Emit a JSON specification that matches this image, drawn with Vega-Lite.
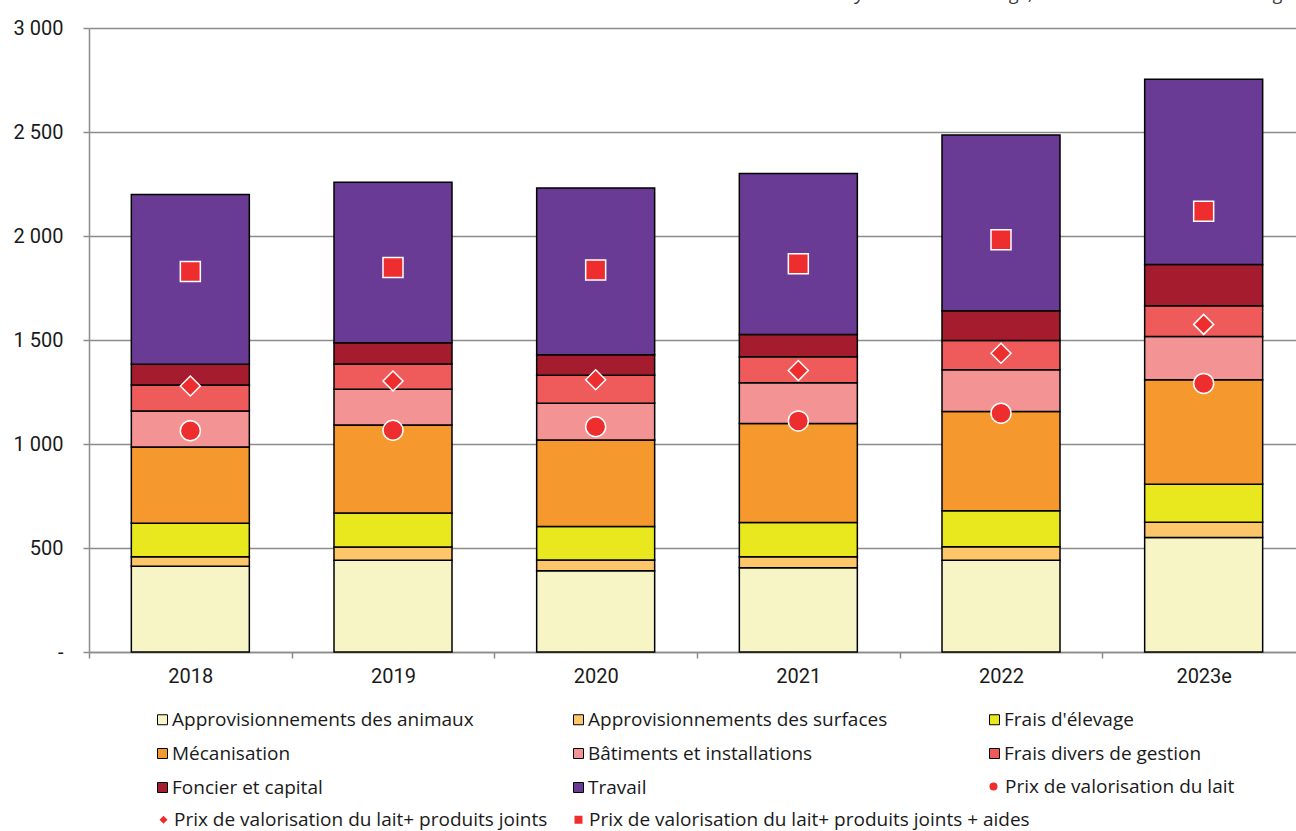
{
  "$schema": "https://vega.github.io/schema/vega-lite/v6.json",
  "width": 1216,
  "height": 624,
  "autosize": {"type": "none"},
  "padding": {"left": 89, "top": 28, "right": 0, "bottom": 179},
  "background": "white",
  "config": {"font": "Roboto", "view": {"stroke": null}},
  "title": {
    "text": "Source : Inosys Réseaux d'élevage, traitement Institut de l'Elevage",
    "anchor": "end",
    "frame": "group",
    "orient": "top",
    "fontStyle": "italic",
    "fontWeight": "normal",
    "font": "Open Sans",
    "fontSize": 19,
    "color": "#333333",
    "baseline": "alphabetic",
    "offset": 4,
    "dy": 5,
    "dx": -12
  },
  "datasets": {
    "couts": [
      {"annee": "2018", "serie": "Approvisionnements des animaux", "valeur": 412, "ordre": 1},
      {"annee": "2018", "serie": "Approvisionnements des surfaces", "valeur": 46, "ordre": 2},
      {"annee": "2018", "serie": "Frais d'élevage", "valeur": 161, "ordre": 3},
      {"annee": "2018", "serie": "Mécanisation", "valeur": 367, "ordre": 4},
      {"annee": "2018", "serie": "Bâtiments et installations", "valeur": 173, "ordre": 5},
      {"annee": "2018", "serie": "Frais divers de gestion", "valeur": 125, "ordre": 6},
      {"annee": "2018", "serie": "Foncier et capital", "valeur": 99, "ordre": 7},
      {"annee": "2018", "serie": " Travail", "valeur": 817, "ordre": 8},
      {"annee": "2019", "serie": "Approvisionnements des animaux", "valeur": 441, "ordre": 1},
      {"annee": "2019", "serie": "Approvisionnements des surfaces", "valeur": 64, "ordre": 2},
      {"annee": "2019", "serie": "Frais d'élevage", "valeur": 163, "ordre": 3},
      {"annee": "2019", "serie": "Mécanisation", "valeur": 423, "ordre": 4},
      {"annee": "2019", "serie": "Bâtiments et installations", "valeur": 172, "ordre": 5},
      {"annee": "2019", "serie": "Frais divers de gestion", "valeur": 122, "ordre": 6},
      {"annee": "2019", "serie": "Foncier et capital", "valeur": 102, "ordre": 7},
      {"annee": "2019", "serie": " Travail", "valeur": 771, "ordre": 8},
      {"annee": "2020", "serie": "Approvisionnements des animaux", "valeur": 391, "ordre": 1},
      {"annee": "2020", "serie": "Approvisionnements des surfaces", "valeur": 51, "ordre": 2},
      {"annee": "2020", "serie": "Frais d'élevage", "valeur": 161, "ordre": 3},
      {"annee": "2020", "serie": "Mécanisation", "valeur": 416, "ordre": 4},
      {"annee": "2020", "serie": "Bâtiments et installations", "valeur": 177, "ordre": 5},
      {"annee": "2020", "serie": "Frais divers de gestion", "valeur": 134, "ordre": 6},
      {"annee": "2020", "serie": "Foncier et capital", "valeur": 99, "ordre": 7},
      {"annee": "2020", "serie": " Travail", "valeur": 802, "ordre": 8},
      {"annee": "2021", "serie": "Approvisionnements des animaux", "valeur": 405, "ordre": 1},
      {"annee": "2021", "serie": "Approvisionnements des surfaces", "valeur": 53, "ordre": 2},
      {"annee": "2021", "serie": "Frais d'élevage", "valeur": 165, "ordre": 3},
      {"annee": "2021", "serie": "Mécanisation", "valeur": 475, "ordre": 4},
      {"annee": "2021", "serie": "Bâtiments et installations", "valeur": 197, "ordre": 5},
      {"annee": "2021", "serie": "Frais divers de gestion", "valeur": 125, "ordre": 6},
      {"annee": "2021", "serie": "Foncier et capital", "valeur": 106, "ordre": 7},
      {"annee": "2021", "serie": " Travail", "valeur": 775, "ordre": 8},
      {"annee": "2022", "serie": "Approvisionnements des animaux", "valeur": 441, "ordre": 1},
      {"annee": "2022", "serie": "Approvisionnements des surfaces", "valeur": 65, "ordre": 2},
      {"annee": "2022", "serie": "Frais d'élevage", "valeur": 173, "ordre": 3},
      {"annee": "2022", "serie": "Mécanisation", "valeur": 477, "ordre": 4},
      {"annee": "2022", "serie": "Bâtiments et installations", "valeur": 201, "ordre": 5},
      {"annee": "2022", "serie": "Frais divers de gestion", "valeur": 140, "ordre": 6},
      {"annee": "2022", "serie": "Foncier et capital", "valeur": 144, "ordre": 7},
      {"annee": "2022", "serie": " Travail", "valeur": 845, "ordre": 8},
      {"annee": "2023e", "serie": "Approvisionnements des animaux", "valeur": 550, "ordre": 1},
      {"annee": "2023e", "serie": "Approvisionnements des surfaces", "valeur": 74, "ordre": 2},
      {"annee": "2023e", "serie": "Frais d'élevage", "valeur": 183, "ordre": 3},
      {"annee": "2023e", "serie": "Mécanisation", "valeur": 502, "ordre": 4},
      {"annee": "2023e", "serie": "Bâtiments et installations", "valeur": 208, "ordre": 5},
      {"annee": "2023e", "serie": "Frais divers de gestion", "valeur": 148, "ordre": 6},
      {"annee": "2023e", "serie": "Foncier et capital", "valeur": 198, "ordre": 7},
      {"annee": "2023e", "serie": " Travail", "valeur": 891, "ordre": 8}
    ],
    "lait": [
      {"annee": "2018", "serie": "Prix de valorisation du lait", "valeur": 1064},
      {"annee": "2019", "serie": "Prix de valorisation du lait", "valeur": 1066},
      {"annee": "2020", "serie": "Prix de valorisation du lait", "valeur": 1083},
      {"annee": "2021", "serie": "Prix de valorisation du lait", "valeur": 1111},
      {"annee": "2022", "serie": "Prix de valorisation du lait", "valeur": 1148},
      {"annee": "2023e", "serie": "Prix de valorisation du lait", "valeur": 1291}
    ],
    "prix": [
      {"annee": "2018", "serie": "Prix de valorisation du lait+ produits joints", "valeur": 1279},
      {"annee": "2018", "serie": "Prix de valorisation du lait+ produits joints + aides", "valeur": 1829},
      {"annee": "2019", "serie": "Prix de valorisation du lait+ produits joints", "valeur": 1303},
      {"annee": "2019", "serie": "Prix de valorisation du lait+ produits joints + aides", "valeur": 1848},
      {"annee": "2020", "serie": "Prix de valorisation du lait+ produits joints", "valeur": 1309},
      {"annee": "2020", "serie": "Prix de valorisation du lait+ produits joints + aides", "valeur": 1837},
      {"annee": "2021", "serie": "Prix de valorisation du lait+ produits joints", "valeur": 1353},
      {"annee": "2021", "serie": "Prix de valorisation du lait+ produits joints + aides", "valeur": 1867},
      {"annee": "2022", "serie": "Prix de valorisation du lait+ produits joints", "valeur": 1436},
      {"annee": "2022", "serie": "Prix de valorisation du lait+ produits joints + aides", "valeur": 1982},
      {"annee": "2023e", "serie": "Prix de valorisation du lait+ produits joints", "valeur": 1575},
      {"annee": "2023e", "serie": "Prix de valorisation du lait+ produits joints + aides", "valeur": 2119}
    ]
  },
  "resolve": {"scale": {"color": "independent", "shape": "independent"}, "legend": {"color": "independent", "shape": "independent"}},
  "layer": [
    {
      "data": {"name": "couts"},
      "mark": {"type": "bar", "width": 118, "stroke": "black", "strokeWidth": 1.5},
      "encoding": {
        "x": {
          "field": "annee", "type": "nominal", "sort": null,
          "scale": {"paddingInner": 0, "paddingOuter": 0},
          "axis": {
            "title": null, "labelAngle": 0, "tickBand": "extent",
            "domainColor": "#8c8c8c", "domainWidth": 1.5,
            "tickColor": "#8c8c8c", "tickWidth": 1.5, "tickSize": 6,
            "labelFont": "Roboto", "labelFontSize": 20, "labelColor": "#1a1a1a", "labelPadding": 8
          }
        },
        "y": {
          "field": "valeur", "type": "quantitative", "stack": "zero",
          "scale": {"domain": [0, 3000], "nice": false},
          "axis": {
            "title": null, "values": [0, 500, 1000, 1500, 2000, 2500, 3000],
            "labelExpr": "datum.value == 0 ? '-' : replace(format(datum.value, ','), ',', ' ')",
            "grid": true, "gridColor": "#8c8c8c", "gridWidth": 1.5,
            "domainColor": "#8c8c8c", "domainWidth": 1.5,
            "tickColor": "#8c8c8c", "tickWidth": 1.5, "tickSize": 6,
            "labelFont": "Roboto", "labelFontSize": 20, "labelColor": "#1a1a1a", "labelPadding": 20
          }
        },
        "color": {
          "field": "serie", "type": "nominal",
          "scale": {
            "domain": ["Approvisionnements des animaux", "Approvisionnements des surfaces", "Frais d'élevage", "Mécanisation", "Bâtiments et installations", "Frais divers de gestion", "Foncier et capital", " Travail"],
            "range": ["#F7F5C6", "#FDC66A", "#E9E81F", "#F5982D", "#F49393", "#EF5B5B", "#A51C2E", "#6A3B94"]
          },
          "legend": {
            "title": null, "orient": "none", "legendX": 64, "legendY": 682, "columns": 3, "direction": "horizontal",
            "gridAlign": "all", "columnPadding": 95, "rowPadding": 14, "padding": 0,
            "symbolType": "square", "symbolSize": 100, "symbolStrokeColor": "black", "symbolStrokeWidth": 1, "labelOffset": 0,
            "labelFont": "Open Sans", "labelFontSize": 19, "labelColor": "#1a1a1a", "labelLimit": 600
          }
        },
        "order": {"field": "ordre", "type": "quantitative"}
      }
    },
    {
      "data": {"name": "lait"},
      "mark": {"type": "point", "filled": true, "size": 400, "shape": "circle", "stroke": "white", "strokeWidth": 1.5, "opacity": 1},
      "encoding": {
        "x": {"field": "annee", "type": "nominal", "sort": null},
        "y": {"field": "valeur", "type": "quantitative"},
        "color": {
          "field": "serie", "type": "nominal",
          "scale": {"domain": ["Prix de valorisation du lait"], "range": ["#EE2E2E"]},
          "legend": {
            "title": null, "orient": "none", "legendX": 895, "legendY": 749, "padding": 0,
            "symbolType": "circle", "symbolSize": 64, "symbolStrokeWidth": 0, "labelOffset": 2,
            "labelFont": "Open Sans", "labelFontSize": 19, "labelColor": "#1a1a1a", "labelLimit": 600
          }
        }
      }
    },
    {
      "data": {"name": "prix"},
      "mark": {"type": "point", "filled": true, "size": 400, "stroke": "white", "strokeWidth": 1.5, "opacity": 1},
      "encoding": {
        "x": {"field": "annee", "type": "nominal", "sort": null},
        "y": {"field": "valeur", "type": "quantitative"},
        "color": {
          "field": "serie", "type": "nominal",
          "scale": {"domain": ["Prix de valorisation du lait+ produits joints", "Prix de valorisation du lait+ produits joints + aides"], "range": ["#EE2E2E", "#EE2E2E"]},
          "legend": {
            "title": null, "orient": "none", "legendX": 65, "legendY": 782, "columns": 2, "direction": "horizontal",
            "gridAlign": "each", "columnPadding": 21, "padding": 0,
            "symbolSize": 64, "symbolStrokeWidth": 0, "labelOffset": 1,
            "labelFont": "Open Sans", "labelFontSize": 19, "labelColor": "#1a1a1a", "labelLimit": 600
          }
        },
        "shape": {
          "field": "serie", "type": "nominal",
          "scale": {"domain": ["Prix de valorisation du lait+ produits joints", "Prix de valorisation du lait+ produits joints + aides"], "range": ["diamond", "square"]},
          "legend": {
            "title": null, "orient": "none", "legendX": 65, "legendY": 782, "columns": 2, "direction": "horizontal",
            "gridAlign": "each", "columnPadding": 21, "padding": 0,
            "symbolSize": 64, "symbolStrokeWidth": 0, "labelOffset": 1,
            "labelFont": "Open Sans", "labelFontSize": 19, "labelColor": "#1a1a1a", "labelLimit": 600
          }
        }
      }
    }
  ]
}
